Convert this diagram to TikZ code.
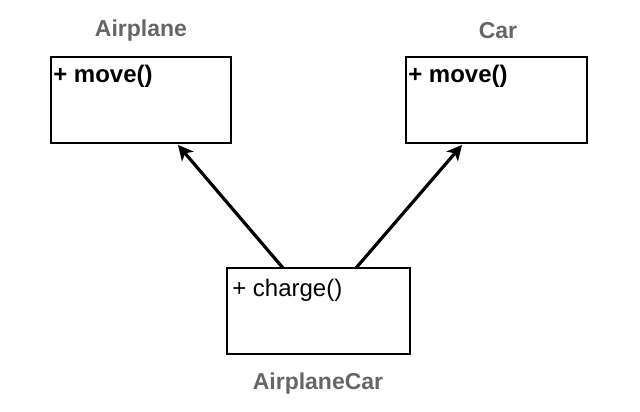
\documentclass[tikz,border=0pt]{standalone}
\usepackage{fontspec}
\setmainfont{Liberation Sans}
\usetikzlibrary{arrows.meta}
\definecolor{titlegray}{HTML}{666666}
\tikzset{
  classbox/.style={draw=black, line width=1.8pt, minimum width=#1, minimum height=86pt, inner sep=0pt},
  title/.style={font=\fontsize{23}{26}\selectfont\bfseries, text=titlegray},
  member/.style={anchor=north west, inner sep=0pt, font=\fontsize{24}{28}\selectfont},
  inherit/.style={line width=3.2pt, -{Stealth[length=15pt, width=15pt, inset=4pt]}}
}
\begin{document}
\begin{tikzpicture}[x=1pt, y=-1pt]
\useasboundingbox (0,0) rectangle (640,412);
\node[classbox=180pt] (airplane) at (141,100) {};
\node[classbox=181pt] (car) at (496.5,100) {};
\node[classbox=183pt] (ac) at (318.5,311) {};
\node[title] (tA) at (141,31) {Airplane};
\node[title] (tC) at (498,31) {Car};
\node[title] (tAC) at (318,384) {AirplaneCar};
\node[member, font=\fontsize{24}{28}\selectfont\bfseries] (mA) at ([shift={(3,9)}]airplane.north west) {+ move()};
\node[member, font=\fontsize{24}{28}\selectfont\bfseries] (mC) at ([shift={(3,9)}]car.north west) {+ move()};
\node[member] (mAC) at ([shift={(6,12)}]ac.north west) {+ charge()};
\coordinate (s1) at (283,268);
\coordinate (s2) at (356,268);
\coordinate (e1) at (178,145);
\coordinate (e2) at (462,145);
\draw[inherit] (s1) -- (e1);
\draw[inherit] (s2) -- (e2);
\end{tikzpicture}
\end{document}
